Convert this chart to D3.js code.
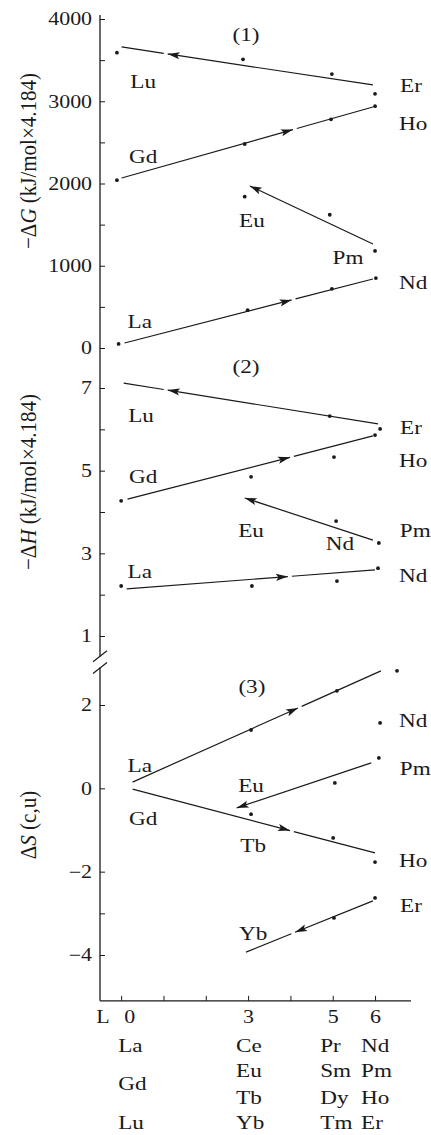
<!DOCTYPE html>
<html>
<head>
<meta charset="utf-8" />
<title>Tetrad effect - dG, dH, dS vs L</title>
<script src="https://d3js.org/d3.v7.min.js"></script>
<style>
  body { margin: 0; background: #fff; }
  text { font-family: "Liberation Serif", "DejaVu Serif", serif; fill: #1a1a1a; }
</style>
</head>
<body>
<svg width="431" height="1135"></svg>
<script>
// x axis: L quantum number
const xTicks = [0, 1, 2, 3, 4, 5, 6];
const xTickLabels = ["0", "", "", "3", "", "5", "6"];

// (1) -dG
const gTicks = [0, 1000, 2000, 3000, 4000];
const gMinor = [500, 1500, 2500, 3500];
const gDots = [
  [-0.1, 3590], [2.88, 3510], [4.98, 3330], [6.0, 3090],
  [6.0, 2940], [4.96, 2780], [2.92, 2480], [-0.1, 2040],
  [2.92, 1840], [4.93, 1620], [6.0, 1180],
  [-0.06, 50], [2.99, 460], [4.98, 720], [6.02, 850]
];
// fitted lines: from -> to, arrow tip at L (null = at the end)
const gLines = [
  { from: [5.95, 3198], to: [0.01, 3660], arrow: 1.1 },
  { from: [0.01, 2067], to: [5.95, 2930], arrow: 4.06 },
  { from: [5.95, 1264], to: [3.04, 1970], arrow: null },
  { from: [0.08, 61], to: [5.95, 839], arrow: 4.03 }
];
const gLabels = [
  ["(1)", 2.95, 3733], ["Lu", 0.52, 3161], ["Er", 6.85, 3112], ["Ho", 6.9, 2650],
  ["Gd", 0.52, 2249], ["Eu", 3.09, 1471], ["Pm", 5.36, 1021], ["Nd", 6.9, 717],
  ["La", 0.44, 243]
];

// (2) -dH
const hTicks = [1, 3, 5, 7];
const hMinor = [2, 4, 6];
const hDots = [
  [4.93, 6.32], [6.12, 6.01],
  [6.0, 5.86], [5.03, 5.33], [3.07, 4.85], [0, 4.27],
  [5.08, 3.78], [6.09, 3.25],
  [0, 2.21], [3.09, 2.21], [5.1, 2.33], [6.07, 2.64]
];
const hLines = [
  { from: [6.07, 6.13], to: [0.06, 7.12], arrow: 1.1 },
  { from: [0.15, 4.31], to: [5.95, 5.84], arrow: 3.99 },
  { from: [5.95, 3.32], to: [2.92, 4.34], arrow: null },
  { from: [0.13, 2.14], to: [6.0, 2.6], arrow: 3.94 }
];
const hLabels = [
  ["(2)", 2.95, 7.36], ["Lu", 0.47, 6.18], ["Er", 6.85, 5.89], ["Ho", 6.9, 5.09],
  ["Gd", 0.52, 4.70], ["Eu", 3.07, 3.39], ["Nd", 5.17, 3.08], ["Pm", 6.95, 3.39],
  ["La", 0.44, 2.40], ["Nd", 6.9, 2.31]
];

// (3) dS
const sTicks = [-4, -2, 0, 2];
const sMinor = [-3];
const sDots = [
  [3.07, 1.40], [5.1, 2.34], [6.52, 2.82],
  [6.12, 1.57],
  [6.09, 0.73], [5.05, 0.13],
  [3.07, -0.62], [5.01, -1.19], [6.0, -1.77],
  [6.0, -2.63], [5.03, -3.11]
];
const sLines = [
  { from: [0.27, 0.15], to: [6.14, 2.82], arrow: 4.18 },
  { from: [5.91, 0.61], to: [2.73, -0.47], arrow: null },
  { from: [0.27, -0.02], to: [6.0, -1.55], arrow: 3.99 },
  { from: [5.95, -2.70], to: [2.95, -3.93], arrow: 4.11 }
];
const sLabels = [
  ["(3)", 3.09, 2.29], ["Nd", 6.9, 1.47], ["Pm", 6.95, 0.32], ["La", 0.44, 0.39],
  ["Eu", 3.07, -0.09], ["Gd", 0.52, -0.88], ["Tb", 3.12, -1.53], ["Ho", 6.9, -1.89],
  ["Er", 6.85, -2.97], ["Yb", 3.12, -3.64]
];

// element groups under the x axis
const tableCols = [0, 3, 5, 6];
const tableRows = [
  ["La", "Ce", "Pr", "Nd"],
  ["", "Eu", "Sm", "Pm"],
  ["Gd", "", "", ""],
  ["", "Tb", "Dy", "Ho"],
  ["Lu", "Yb", "Tm", "Er"]
];

// ---- layout ----
const svg = d3.select("svg");
const ink = "#1a1a1a";
const sx = 1.22; // the printed figure is a bit wider than tall

const x = d3.scaleLinear().domain([-0.5, 6.85]).range([100, 411]);
const yG = d3.scaleLinear().domain([0, 4000]).range([348, 19]);
const yH = d3.scaleLinear().domain([1, 7]).range([636, 388]);
const yS = d3.scaleLinear().domain([-4, 2]).range([955, 705]);
const axisX = x(-0.5);
const axisY = yS(-5.1);

function addText(g, px, py, str, size, anchor) {
  return g.append("text")
    .attr("transform", `translate(${px},${py}) scale(${sx},1)`)
    .attr("text-anchor", anchor || "middle")
    .attr("font-size", size)
    .text(str);
}

// y axes (ticks inward, no domain)
function yAxis(scale, major, minor) {
  svg.append("g")
    .attr("transform", `translate(${axisX},0)`)
    .call(d3.axisLeft(scale).tickValues(major).tickSize(-5).tickPadding(6.5)
      .tickFormat(d3.format("d")))
    .call(g => g.select(".domain").remove())
    .call(g => g.selectAll("line").attr("stroke", ink))
    .call(g => g.selectAll("text")
      .attr("font-family", '"Liberation Serif", serif')
      .attr("font-size", 18)
      .attr("fill", ink)
      .attr("transform", `scale(${sx},1)`));
  svg.append("g")
    .attr("transform", `translate(${axisX},0)`)
    .call(d3.axisLeft(scale).tickValues(minor).tickSize(-5).tickFormat(""))
    .call(g => g.select(".domain").remove())
    .call(g => g.selectAll("line").attr("stroke", ink));
}
yAxis(yG, gTicks, gMinor);
yAxis(yH, hTicks, hMinor);
yAxis(yS, sTicks, sMinor);

// axis line with break between panel 2 and panel 3
const brkTop = yH(0.5), brkBot = yS(2.9);
svg.append("line").attr("x1", axisX).attr("x2", axisX)
  .attr("y1", yG(4050)).attr("y2", brkTop).attr("stroke", ink).attr("stroke-width", 1.3);
svg.append("line").attr("x1", axisX).attr("x2", axisX)
  .attr("y1", brkBot).attr("y2", axisY).attr("stroke", ink).attr("stroke-width", 1.3);
[brkTop + 3, brkBot + 4].forEach(b => {
  svg.append("line")
    .attr("x1", axisX - 7).attr("y1", b + 2)
    .attr("x2", axisX + 7).attr("y2", b - 9)
    .attr("stroke", ink).attr("stroke-width", 1.2);
});

// x axis
svg.append("g")
  .attr("transform", `translate(0,${axisY})`)
  .call(d3.axisBottom(x).tickValues(xTicks).tickSize(-5).tickPadding(9.5)
    .tickFormat((d, i) => xTickLabels[i]))
  .call(g => g.select(".domain").remove())
  .call(g => g.selectAll("line").attr("stroke", ink))
  .call(g => g.selectAll("text")
    .attr("font-family", '"Liberation Serif", serif')
    .attr("font-size", 18)
    .attr("fill", ink)
    .attr("transform", (d) => d === 0 ? `translate(8,0) scale(${sx},1)` : `scale(${sx},1)`));
svg.append("line").attr("x1", axisX).attr("x2", x(6.85))
  .attr("y1", axisY).attr("y2", axisY).attr("stroke", ink).attr("stroke-width", 1.3);
addText(svg, axisX + 3, axisY + 22.5, "L", 18);

// axis titles (rotated)
function yTitle(cy, letter, tail) {
  const t = svg.append("text")
    .attr("transform", `translate(36,${cy}) scale(1.1,1) rotate(-90)`)
    .attr("text-anchor", "middle")
    .attr("font-size", 21);
  t.append("tspan").text(tail ? "\u2212\u0394" : "\u0394");
  t.append("tspan").attr("font-style", "italic").text(letter);
  t.append("tspan").text(tail || " (c,u)");
}
yTitle(161, "G", " (kJ/mol\u00d74.184)");
yTitle(482, "H", " (kJ/mol\u00d74.184)");
yTitle(825, "S", null);

// panels
function drawPanel(y, dots, lines, labels) {
  const g = svg.append("g");
  lines.forEach(ln => {
    const p0 = [x(ln.from[0]), y(ln.from[1])];
    const p1 = [x(ln.to[0]), y(ln.to[1])];
    const dx = p1[0] - p0[0], dy = p1[1] - p0[1];
    const len = Math.hypot(dx, dy);
    const u = [dx / len, dy / len];
    let tip, segs;
    if (ln.arrow == null) {
      tip = p1;
      segs = [[p0, p1]];
    } else {
      const t = (ln.arrow - ln.from[0]) / (ln.to[0] - ln.from[0]);
      tip = [p0[0] + dx * t, p0[1] + dy * t];
      segs = [[p0, tip], [[tip[0] + u[0] * 4, tip[1] + u[1] * 4], p1]];
    }
    segs.forEach(s => {
      g.append("line")
        .attr("x1", s[0][0]).attr("y1", s[0][1])
        .attr("x2", s[1][0]).attr("y2", s[1][1])
        .attr("stroke", ink).attr("stroke-width", 1.2);
    });
    // arrowhead
    const n = [-u[1], u[0]];
    const b = [tip[0] - u[0] * 12, tip[1] - u[1] * 12];
    const notch = [tip[0] - u[0] * 9.5, tip[1] - u[1] * 9.5];
    g.append("path")
      .attr("d", `M${tip[0]},${tip[1]}L${b[0] + n[0] * 3.6},${b[1] + n[1] * 3.6}` +
        `L${notch[0]},${notch[1]}L${b[0] - n[0] * 3.6},${b[1] - n[1] * 3.6}Z`)
      .attr("fill", ink);
  });

  g.selectAll(".dot")
    .data(dots)
    .enter()
    .append("circle")
    .attr("class", "dot")
    .attr("cx", d => x(d[0]))
    .attr("cy", d => y(d[1]))
    .attr("r", 1.9)
    .attr("fill", ink);

  labels.forEach(l => addText(g, x(l[1]), y(l[2]), l[0], 19));
}
drawPanel(yG, gDots, gLines, gLabels);
drawPanel(yH, hDots, hLines, hLabels);
drawPanel(yS, sDots, sLines, sLabels);

// element table below the axis
const rowY = [1052, 1077, 1090, 1104, 1129];
const colOffset = [-3, -12, -12.5, -14];
tableRows.forEach((row, r) => {
  row.forEach((name, c) => {
    if (name) addText(svg, x(tableCols[c]) + colOffset[c], rowY[r], name, 19, "start");
  });
});
</script>
</body>
</html>
